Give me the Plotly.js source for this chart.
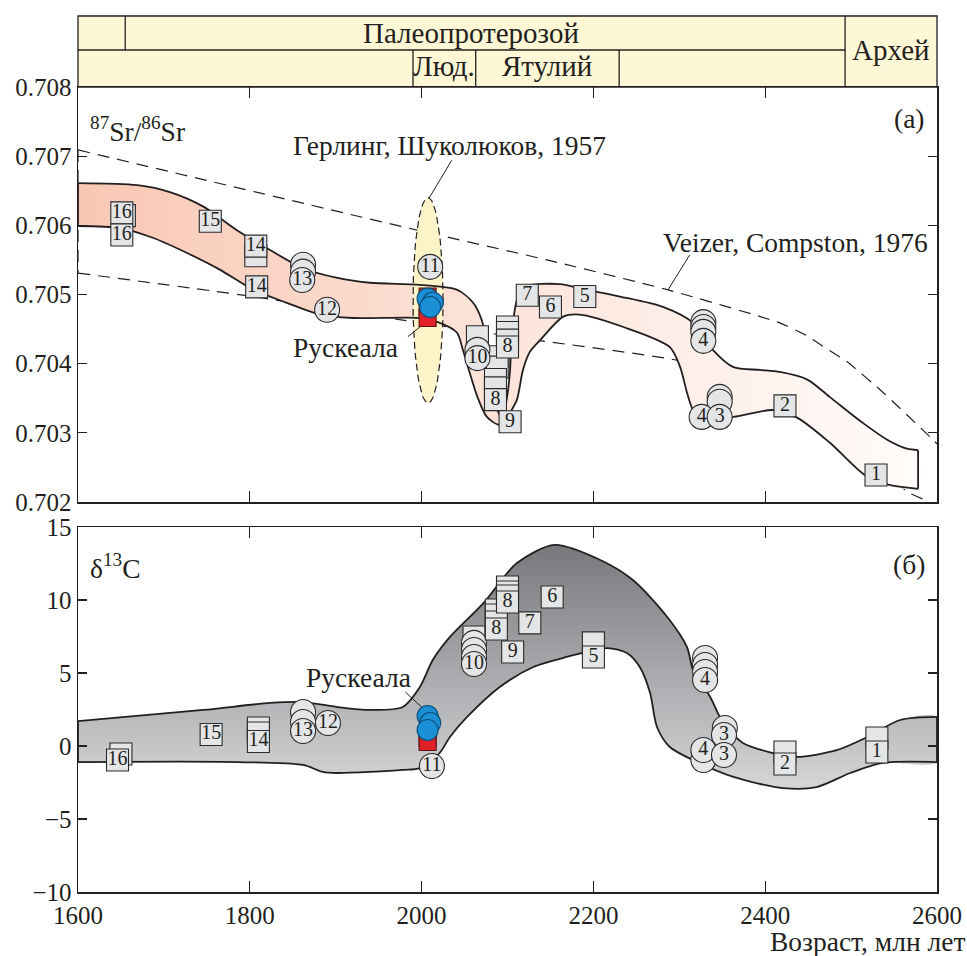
<!DOCTYPE html>
<html>
<head>
<meta charset="utf-8">
<script src="https://cdn.plot.ly/plotly-3.0.1.min.js"></script>
<style>html,body{margin:0;padding:0;background:#fff;}#chart{width:967px;height:956px;}</style>
</head>
<body>
<div id="chart"></div>
<script>
// ---------- DATA ----------
// 87Sr/86Sr envelope (upper and lower curves)
const srUpperAge = [1600,1669,1707,1746,1785,1824,1862,1902,1940,1998,2041,2060,2070,2076,2082,2088,2094,2099,2103,2105,2111,2120,2161,2190,2231,2281,2316,2339,2363,2394,2417,2449,2475,2514,2542,2565,2578];
const srUpper = [0.70661,0.70658,0.70648,0.70627,0.70593,0.70564,0.70538,0.70524,0.70517,0.70514,0.70507,0.70488,0.70463,0.70427,0.70377,0.70333,0.70322,0.70348,0.70391,0.70442,0.70492,0.70511,0.70515,0.70507,0.70497,0.70482,0.70459,0.70420,0.70395,0.70391,0.70388,0.70377,0.70352,0.70314,0.70290,0.70277,0.70275];
const srLowerAge = [1600,1649,1687,1727,1765,1804,1843,1882,1920,1998,2019,2041,2048,2056,2065,2076,2089,2097,2103,2111,2118,2126,2138,2165,2184,2235,2289,2301,2309,2316,2324,2363,2409,2437,2475,2516,2543,2578];
const srLower = [0.70599,0.70596,0.70582,0.70560,0.70536,0.70507,0.70488,0.70471,0.70466,0.70466,0.70460,0.70445,0.70420,0.70387,0.70352,0.70323,0.70312,0.70314,0.70329,0.70348,0.70391,0.70417,0.70434,0.70468,0.70471,0.70453,0.70424,0.70395,0.70358,0.70333,0.70323,0.70323,0.70333,0.70322,0.70286,0.70239,0.70225,0.70219];

// Veizer, Compston, 1976 envelope (dashed)
const veizerUpperAge = [1600,1995,2146,2286,2417,2446,2470,2495,2534,2592,2600];
const veizerUpper = [0.70709,0.70593,0.70550,0.70507,0.70459,0.70442,0.70423,0.70403,0.70362,0.70294,0.70284];
const veizerLowerAge = [1600,1804,1978,2134,2297,2394,2475,2534,2565,2592];
const veizerLower = [0.70531,0.70497,0.70463,0.70434,0.70405,0.70369,0.70312,0.70254,0.70215,0.70200];

// Герлинг, Шуколюков, 1957 (ellipse bounding box)
const gerlingAge = [1990, 2025];
const gerlingSr = [0.70343, 0.70640];

// delta13C envelope
const c13UpperAge = [1600,1746,1824,1862,1902,1940,1978,1998,2013,2033,2072,2111,2155,2208,2246,2286,2309,2316,2336,2351,2374,2409,2437,2484,2519,2557,2600];
const c13Upper = [1.71,2.47,2.95,3.01,2.67,2.47,2.67,4.04,5.89,7.47,9.79,12.53,13.77,12.74,11.37,8.84,6.78,5.2,3.36,1.58,0.21,-0.48,-0.75,-0.27,0.62,1.78,1.99];
const c13LowerAge = [1600,1785,1862,1885,1902,1978,1998,2021,2033,2053,2091,2130,2169,2216,2239,2254,2266,2274,2289,2316,2363,2421,2460,2499,2537,2600];
const c13Lower = [-1.10,-1.10,-1.30,-1.78,-1.85,-1.64,-1.51,-0.48,0.62,1.99,4.04,5.41,6.10,6.71,6.37,5.41,3.63,1.30,-0.07,-0.96,-2.12,-2.88,-2.81,-1.85,-1.16,-1.10];

// Sr samples: stacked (unlabelled, behind) squares and circles
const srSqBackAge = [1654,1807,2065,2089,2088,2086,2086,2100,2100,2100];
const srSqBackVal = [0.70614,0.70556,0.70439,0.70410,0.70395,0.70377,0.70365,0.70453,0.70445,0.70434];
const srCiBackAge = [1862,1862,2065,2328,2328,2328,2347,2347];
const srCiBackVal = [0.70543,0.70533,0.70420,0.70460,0.70453,0.70446,0.70352,0.70345];
// Sr samples: labelled squares and circles
const srSqAge = [1651,1651,1754,1807,1808,2100,2086,2103,2123,2150,2190,2423,2529];
const srSqVal = [0.70618,0.70586,0.70606,0.70570,0.70511,0.70424,0.70348,0.70316,0.70499,0.70482,0.70497,0.70339,0.70239];
const srSqLabel = ['16','16','15','14','14','8','8','9','7','6','5','2','1'];
const srCiAge = [1861,1890,2010,2065,2328,2326,2347];
const srCiVal = [0.70521,0.70478,0.70540,0.70408,0.70433,0.70323,0.70323];
const srCiLabel = ['13','12','11','10','4','4','3'];
// Ruskeala (Sr)
const srRedAge = [2007,2007,2007];
const srRedVal = [0.70497,0.70482,0.70466];
const srBlueAge = [2007,2013,2010];
const srBlueVal = [0.70494,0.70488,0.70482];

// C samples: stacked (unlabelled, behind)
const cSqBackAge = [1650,1810,1810,2061,2087,2087,2087,2100,2100,2100,2200,2423,2530];
const cSqBackVal = [-0.55,1.23,0.89,7.47,9.32,8.97,8.49,10.89,10.55,10.27,7.06,-0.41,0.55];
const cCiBackAge = [1862,1862,2061,2061,2061,2330,2330,2330,2353,2328];
const cCiBackVal = [2.33,1.64,7.06,6.58,6.10,6.03,5.55,5.07,1.23,-0.96];
// C samples: labelled
const cSqAge = [1646,1755,1810,2100,2087,2106,2126,2152,2200,2423,2530];
const cSqVal = [-0.96,0.79,0.31,9.86,8.01,6.44,8.43,10.21,6.10,-1.23,-0.41];
const cSqLabel = ['16','15','14','8','8','9','7','6','5','2','1'];
const cCiAge = [1862,1891,2012,2061,2330,2352,2328,2352];
const cCiVal = [1.03,1.58,-1.37,5.62,4.52,0.75,-0.27,-0.62];
const cCiLabel = ['13','12','11','10','4','3','4','3'];
// Ruskeala (C)
const cRedAge = [2007,2007];
const cRedVal = [0.55,0.27];
const cBlueAge = [2007,2010,2007];
const cBlueVal = [2.05,1.58,1.10];

// Stratigraphic header
const headerTopBounds = [1655, 2493];      // Палеопротерозой / Архей
const headerBottomBounds = [1990, 2063, 2230];
const headerLabels = ['Палеопротерозой','Архей','Люд.','Ятулий'];

// Axes
const ageRange = [1600, 2600];
const srRange = [0.702, 0.708];
const cRange = [-10, 15];

// ---------- BUILD ----------
const FONT = 'Liberation Serif';
const INK = '#231f20';
const CLEAR = 'rgba(0,0,0,0)';
const traces = [];
const SM = 0.8;

function line(x, y, xa, ya, extra) {
  return Object.assign({x, y, xaxis:xa, yaxis:ya, mode:'lines', hoverinfo:'skip'}, extra);
}
function poly(ua, uv, la, lv) {
  return {x: ua.concat(la.slice().reverse()), y: uv.concat(lv.slice().reverse())};
}

// Veizer dashed envelope (upper, lower, closing left edge)
const VL = {color:INK, width:1.2, dash:'12px,8px', shape:'spline', smoothing:0.5};
traces.push(line(veizerUpperAge, veizerUpper, 'x', 'y', {line:VL}));
traces.push(line(veizerLowerAge, veizerLower, 'x', 'y', {line:VL}));
traces.push(line([veizerUpperAge[0], veizerLowerAge[0]], [veizerUpper[0], veizerLower[0]], 'x', 'y', {line:{color:INK, width:1.2, dash:'12px,8px'}}));

// Sr band fill
const srP = poly(srUpperAge, srUpper, srLowerAge, srLower);
traces.push(line(srP.x, srP.y, 'x', 'y', {fill:'toself', fillcolor:'#fbe0d4',
  line:{color:CLEAR, width:1, shape:'spline', smoothing:SM},
  fillgradient:{type:'horizontal', start:1600, stop:2600, colorscale:[[0,'#f8c7b3'],[0.5,'#fce4da'],[1,'#fffdfc']]}}));

// Ellipse (Gerling)
const ecx = (gerlingAge[0]+gerlingAge[1])/2, erx = (gerlingAge[1]-gerlingAge[0])/2;
const ecy = (gerlingSr[0]+gerlingSr[1])/2, ery = (gerlingSr[1]-gerlingSr[0])/2;
const ex = [], ey = [];
for (let i = 0; i <= 90; i++) { const t = 2*Math.PI*i/90; ex.push(ecx + erx*Math.cos(t)); ey.push(ecy + ery*Math.sin(t)); }
traces.push(line(ex, ey, 'x', 'y', {fill:'toself', fillcolor:'#fcf4c8', line:{color:INK, width:1.2, dash:'7px,4px'}}));

// Sr band outline
const BL = {color:INK, width:1.8, shape:'spline', smoothing:SM};
traces.push(line(srUpperAge, srUpper, 'x', 'y', {line:BL}));
traces.push(line(srLowerAge, srLower, 'x', 'y', {line:BL}));
const nU = srUpperAge.length - 1, nL = srLowerAge.length - 1;
traces.push(line([srUpperAge[nU], srLowerAge[nL]], [srUpper[nU], srLower[nL]], 'x', 'y', {line:{color:INK, width:1.8}}));
traces.push(line([srUpperAge[0], srLowerAge[0]], [srUpper[0], srLower[0]], 'x', 'y', {line:{color:INK, width:1.8}}));

// C13 band fill + outline
const cP = poly(c13UpperAge, c13Upper, c13LowerAge, c13Lower);
traces.push(line(cP.x, cP.y, 'x2', 'y2', {fill:'toself', fillcolor:'#a6a7a9',
  line:{color:CLEAR, width:1, shape:'spline', smoothing:SM},
  fillgradient:{type:'vertical', start:-3, stop:14, colorscale:[[0,'#d5d6d8'],[1,'#76777a']]}}));
traces.push(line(c13UpperAge, c13Upper, 'x2', 'y2', {line:BL}));
traces.push(line(c13LowerAge, c13Lower, 'x2', 'y2', {line:BL}));
traces.push(line([c13UpperAge[0], c13LowerAge[0]], [c13Upper[0], c13Lower[0]], 'x2', 'y2', {line:{color:INK, width:1.8}}));
const cU = c13UpperAge.length - 1, cL = c13LowerAge.length - 1;
traces.push(line([c13UpperAge[cU], c13LowerAge[cL]], [c13Upper[cU], c13Lower[cL]], 'x2', 'y2', {line:{color:INK, width:1.8}}));

function markers(x, y, labels, symbol, size, color, xa, ya, lineColor) {
  const t = {x, y, xaxis:xa, yaxis:ya, mode: labels ? 'markers+text' : 'markers',
    hoverinfo:'skip', cliponaxis:false,
    marker:{symbol, size, color, line:{color: lineColor || '#2b2b2b', width:1.1}}};
  if (labels) { t.text = labels; t.textposition = 'middle center'; t.textfont = {family:FONT, size:20, color:INK}; }
  return t;
}
const GRAY = '#e4e5e6';
traces.push(markers(srSqBackAge, srSqBackVal, null, 'square', 22, GRAY, 'x', 'y'));
traces.push(markers(srCiBackAge, srCiBackVal, null, 'circle', 25, GRAY, 'x', 'y'));
traces.push(markers(srSqAge, srSqVal, srSqLabel, 'square', 22, GRAY, 'x', 'y'));
traces.push(markers(srCiAge, srCiVal, srCiLabel, 'circle', 25, GRAY, 'x', 'y'));
traces.push(markers(srRedAge, srRedVal, null, 'square', 17, '#e2202a', 'x', 'y', '#5a1010'));
traces.push(markers(srBlueAge, srBlueVal, null, 'circle', 21, '#1a8fd6', 'x', 'y', '#0b4e78'));
traces.push(markers(cSqBackAge, cSqBackVal, null, 'square', 22, GRAY, 'x2', 'y2'));
traces.push(markers(cCiBackAge, cCiBackVal, null, 'circle', 25, GRAY, 'x2', 'y2'));
traces.push(markers(cSqAge, cSqVal, cSqLabel, 'square', 22, GRAY, 'x2', 'y2'));
traces.push(markers(cCiAge, cCiVal, cCiLabel, 'circle', 25, GRAY, 'x2', 'y2'));
traces.push(markers(cRedAge, cRedVal, null, 'square', 17, '#e2202a', 'x2', 'y2', '#5a1010'));
traces.push(markers(cBlueAge, cBlueVal, null, 'circle', 21, '#1a8fd6', 'x2', 'y2', '#0b4e78'));

// ---------- LAYOUT ----------
const H = 956, mT = 87, mB = 64;
const plotH = H - mT - mB;            // 805
const pyToPaper = py => (H - mB - py) / plotH;
const ageToPaper = a => (a - ageRange[0]) / (ageRange[1] - ageRange[0]);

const axBase = {showgrid:false, zeroline:false, showline:true, linecolor:INK, linewidth:1.5,
  ticks:'inside', ticklen:9, tickwidth:1.3, tickcolor:INK, mirror:'ticks',
  tickfont:{family:FONT, size:25, color:INK}};

const hTop = pyToPaper(16), hMid = pyToPaper(50), hBot = 1.0;
const shapes = [];
const HL = {color:INK, width:1.3};
shapes.push({type:'rect', xref:'paper', yref:'paper', x0:0, x1:1, y0:hBot, y1:hTop, fillcolor:'#fef7d5', line:HL, layer:'below'});
shapes.push({type:'line', xref:'paper', yref:'paper', x0:0, x1:ageToPaper(headerTopBounds[1]), y0:hMid, y1:hMid, line:HL});
shapes.push({type:'line', xref:'paper', yref:'paper', x0:ageToPaper(headerTopBounds[0]), x1:ageToPaper(headerTopBounds[0]), y0:hMid, y1:hTop, line:HL});
shapes.push({type:'line', xref:'paper', yref:'paper', x0:ageToPaper(headerTopBounds[1]), x1:ageToPaper(headerTopBounds[1]), y0:hBot, y1:hTop, line:HL});
headerBottomBounds.forEach(b => shapes.push({type:'line', xref:'paper', yref:'paper', x0:ageToPaper(b), x1:ageToPaper(b), y0:hBot, y1:hMid, line:HL}));

// leader lines
const LL = {color:INK, width:1};
shapes.push({type:'line', xref:'x', yref:'y', x0:2009, y0:0.70640, x1:2035, y1:0.70694, line:LL});
shapes.push({type:'line', xref:'x', yref:'y', x0:2312, y0:0.70557, x1:2287, y1:0.70507, line:LL});
shapes.push({type:'line', xref:'x', yref:'y', x0:1984, y0:0.70439, x1:1998, y1:0.70453, line:LL});
shapes.push({type:'line', xref:'x2', yref:'y2', x0:1981, y0:3.70, x1:2000, y1:2.67, line:LL});

const AF = {family:FONT, size:27.5, color:INK};
const HF = {family:FONT, size:29, color:INK};
const annotations = [
  {xref:'paper', yref:'paper', x:ageToPaper(2057), y:pyToPaper(33), xanchor:'center', yanchor:'middle', text:headerLabels[0], showarrow:false, font:HF},
  {xref:'paper', yref:'paper', x:ageToPaper((headerTopBounds[1]+2600)/2), y:pyToPaper(50), xanchor:'center', yanchor:'middle', text:headerLabels[1], showarrow:false, font:HF},
  {xref:'paper', yref:'paper', x:ageToPaper((headerBottomBounds[0]+headerBottomBounds[1])/2), y:pyToPaper(66), xanchor:'center', yanchor:'middle', text:headerLabels[2], showarrow:false, font:HF},
  {xref:'paper', yref:'paper', x:ageToPaper((headerBottomBounds[1]+headerBottomBounds[2])/2), y:pyToPaper(66), xanchor:'center', yanchor:'middle', text:headerLabels[3], showarrow:false, font:HF},
  {xref:'x', yref:'y', x:1612, y:0.70738, xanchor:'left', yanchor:'middle', text:'<sup>87</sup>Sr/<sup>86</sup>Sr', showarrow:false, font:AF},
  {xref:'x', yref:'y', x:2588, y:0.70755, xanchor:'right', yanchor:'middle', text:'(а)', showarrow:false, font:AF},
  {xref:'x', yref:'y', x:2033, y:0.70716, xanchor:'center', yanchor:'middle', text:'Герлинг, Шуколюков, 1957', showarrow:false, font:AF},
  {xref:'x', yref:'y', x:2435, y:0.70575, xanchor:'center', yanchor:'middle', text:'Veizer, Compston, 1976', showarrow:false, font:AF},
  {xref:'x', yref:'y', x:1911, y:0.70423, xanchor:'center', yanchor:'middle', text:'Рускеала', showarrow:false, font:AF},
  {xref:'x2', yref:'y2', x:1612, y:12.3, xanchor:'left', yanchor:'middle', text:'δ<sup>13</sup>C', showarrow:false, font:AF},
  {xref:'x2', yref:'y2', x:2588, y:12.4, xanchor:'right', yanchor:'middle', text:'(б)', showarrow:false, font:AF},
  {xref:'x2', yref:'y2', x:1926, y:4.66, xanchor:'center', yanchor:'middle', text:'Рускеала', showarrow:false, font:AF},
  {xref:'paper', yref:'paper', x:1, xshift:30, xanchor:'right', y:pyToPaper(942), yanchor:'middle', text:'Возраст, млн лет', showarrow:false, font:AF}
];

const layout = {
  width:967, height:H, margin:{l:78, r:30, t:mT, b:mB}, showlegend:false,
  paper_bgcolor:'#ffffff', plot_bgcolor:'#ffffff', font:{family:FONT, color:INK},
  xaxis: Object.assign({}, axBase, {domain:[0,1], anchor:'y', range:ageRange, tickvals:[1800,2000,2200,2400], showticklabels:false, ticklen:11}),
  yaxis: Object.assign({}, axBase, {domain:[pyToPaper(502),1], anchor:'x', range:srRange, dtick:0.001, tick0:0.702, tickformat:'.3f'}),
  xaxis2: Object.assign({}, axBase, {domain:[0,1], anchor:'y2', range:ageRange, tickvals:[1600,1800,2000,2200,2400,2600], ticklen:11}),
  yaxis2: Object.assign({}, axBase, {domain:[0,pyToPaper(527)], anchor:'x2', range:cRange, dtick:5, tick0:-10}),
  shapes, annotations
};

Plotly.newPlot('chart', traces, layout, {staticPlot:true, displayModeBar:false});
</script>
</body>
</html>
